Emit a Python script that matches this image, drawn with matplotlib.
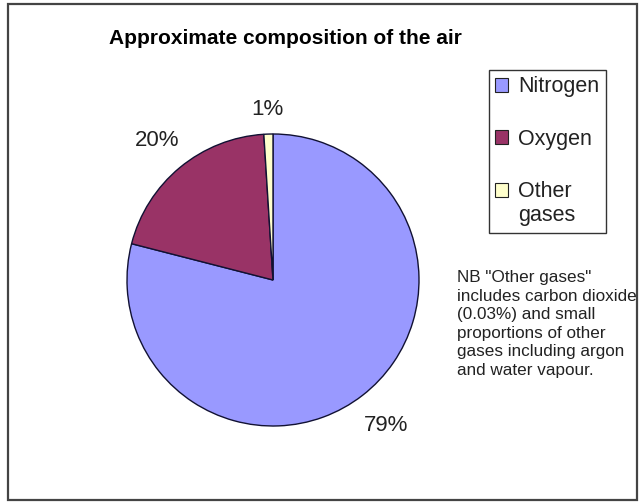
import matplotlib
matplotlib.use('agg')
import matplotlib.pyplot as plt
from matplotlib.patches import Rectangle, Patch
from matplotlib.legend_handler import HandlerPatch
import numpy as np

gases = ['Nitrogen', 'Oxygen', 'Other\ngases']
percent = [79, 20, 1]
pct_labels = ['79%', '20%', '1%']
colours = ['#9999FF', '#993366', '#FFFFCC']

title = 'Approximate composition of the air'
note = ('NB "Other gases"\nincludes carbon dioxide\n(0.03%) and small\n'
        'proportions of other\ngases including argon\nand water vapour.')

W, H = 641, 504
plt.rcParams['font.family'] = ['Liberation Sans', 'DejaVu Sans']
fig = plt.figure(figsize=(W / 100, H / 100), dpi=100)
fig.patch.set_facecolor('white')

# outer chart border
fig.patches.append(Rectangle((8 / W, 4 / H), 629 / W, 496 / H, transform=fig.transFigure,
                             fill=False, edgecolor='#444444', linewidth=1.6))

# pie centre (273, 280) px, radius 146 px
cx, cy, r = 273, 280, 146
ax = fig.add_axes([(cx - r) / W, (H - cy - r) / H, 2 * r / W, 2 * r / H])
wedges, _ = ax.pie(percent, colors=colours, startangle=90, counterclock=False,
                   wedgeprops=dict(edgecolor='#111133', linewidth=1.0))
ax.set_xlim(-1, 1)
ax.set_ylim(-1, 1)
ax.set_aspect('equal')
ax.axis('off')

dists = [1.26, 1.24, 1.17]
for w, lab, d in zip(wedges, pct_labels, dists):
    ang = np.deg2rad((w.theta1 + w.theta2) / 2)
    ax.text(d * np.cos(ang), d * np.sin(ang), lab, ha='center', va='center',
            fontsize=16, color='#222222', clip_on=False)

fig.text(285 / W, 1 - 38 / H, title, ha='center', va='center', fontsize=15,
         fontweight='bold', color='black')


def square_on_first_line(legend, orig_handle, xdescent, ydescent, width, height, fontsize):
    # two-line labels: keep the swatch level with the first line
    shift = 0.65 * fontsize * orig_handle.get_label().count('\n')
    return Rectangle((-xdescent, -ydescent + shift), width, height)


handles = [Patch(facecolor=c, edgecolor='#222222', linewidth=0.8, label=g)
           for c, g in zip(colours, gases)]
leg = fig.legend(handles, gases, loc='upper left', bbox_to_anchor=(489 / W, 1 - 70 / H),
                 frameon=True, fancybox=False, fontsize=15.5, handlelength=0.6,
                 handleheight=0.6, handletextpad=0.45, labelspacing=1.45, borderpad=0.3,
                 borderaxespad=0,
                 handler_map={Patch: HandlerPatch(patch_func=square_on_first_line)})
leg.get_frame().set_edgecolor('black')
leg.get_frame().set_linewidth(1.0)
for t in leg.get_texts():
    t.set_color('#222222')

fig.text(457 / W, 1 - 270 / H, note, ha='left', va='top', fontsize=12.3,
         linespacing=1.3, color='#222222')

fig.savefig('out.png', dpi=100, facecolor='white')
